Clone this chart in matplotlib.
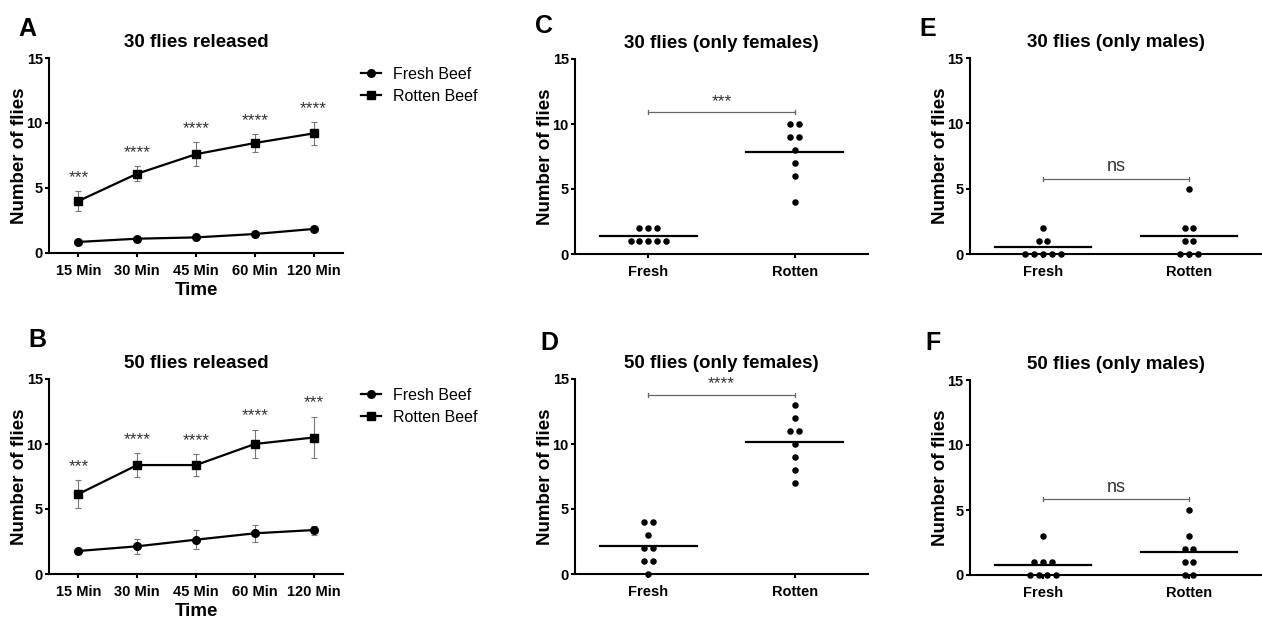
import matplotlib
matplotlib.use('Agg')
import matplotlib.pyplot as plt
import numpy as np
from collections import Counter

plt.rcParams['font.family'] = ['Liberation Sans', 'DejaVu Sans']

# time course data (panels A, B)
times = ['15 Min', '30 Min', '45 Min', '60 Min', '120 Min']

fresh_30 = [0.85, 1.1, 1.2, 1.46, 1.85]
fresh_30_err = [0.12, 0.12, 0.15, 0.15, 0.18]
rotten_30 = [4.0, 6.1, 7.6, 8.46, 9.2]
rotten_30_err = [0.75, 0.6, 0.9, 0.7, 0.87]
stars_30 = ['***', '****', '****', '****', '****']

fresh_50 = [1.77, 2.13, 2.64, 3.13, 3.38]
fresh_50_err = [0.12, 0.6, 0.72, 0.63, 0.35]
rotten_50 = [6.15, 8.38, 8.38, 10.0, 10.5]
rotten_50_err = [1.05, 0.92, 0.85, 1.1, 1.6]
stars_50 = ['***', '****', '****', '****', '***']

# individual counts (panels C-F)
groups = ['Fresh', 'Rotten']
fem30_fresh = [2, 2, 2, 1, 1, 1, 1, 1]
fem30_rotten = [10, 10, 9, 9, 8, 7, 6, 4]
fem50_fresh = [4, 4, 3, 2, 2, 1, 1, 0]
fem50_rotten = [13, 12, 11, 11, 10, 9, 8, 7]
mal30_fresh = [2, 1, 1, 0, 0, 0, 0, 0]
mal30_rotten = [5, 2, 2, 1, 1, 0, 0, 0]
mal50_fresh = [3, 1, 1, 1, 0, 0, 0, 0]
mal50_rotten = [5, 3, 2, 2, 1, 1, 0, 0]

W, H = 1262, 619
fig = plt.figure(figsize=(W / 100, H / 100), dpi=100)


def px_axes(left, top, right, bottom):
    return fig.add_axes([left / W, 1 - bottom / H, (right - left) / W, (bottom - top) / H])


def style(ax):
    for s in ['top', 'right']:
        ax.spines[s].set_visible(False)
    for s in ['left', 'bottom']:
        ax.spines[s].set_linewidth(1.5)
    ax.tick_params(direction='out', length=3, width=1.5, labelsize=10.5, pad=1.5)
    ax.tick_params(axis='x', pad=5)
    ax.set_ylim(0, 15)
    ax.set_yticks([0, 5, 10, 15])
    for lab in ax.get_xticklabels() + ax.get_yticklabels():
        lab.set_fontweight('bold')
    ax.set_ylabel('Number of flies', fontsize=13.5, fontweight='bold', labelpad=-1)


def time_panel(ax, title, fresh, fresh_err, rotten, rotten_err, stars):
    x = np.arange(len(times))
    for vals, errs, mk, ms, lab in [(fresh, fresh_err, 'o', 5.5, 'Fresh Beef'),
                                    (rotten, rotten_err, 's', 6.2, 'Rotten Beef')]:
        ax.errorbar(x, vals, yerr=errs, fmt='none', ecolor='#777777', elinewidth=0.8,
                    capsize=2.5, capthick=0.8, zorder=2)
        ax.plot(x, vals, color='black', marker=mk, markersize=ms, lw=1.6,
                label=lab, clip_on=False, zorder=3)
    for xi, r, e, s in zip(x, rotten, rotten_err, stars):
        ax.text(xi, r + e + 1.05, s, ha='center', va='center', fontsize=12.5, color='#333333')
    ax.set_xlim(-0.5, len(times) - 0.5)
    ax.set_xticks(x)
    ax.set_xticklabels(times)
    style(ax)
    ax.set_xlabel('Time', fontsize=13.5, fontweight='bold', labelpad=3)
    ax.set_title(title, fontsize=13.5, fontweight='bold', pad=8)
    ax.legend(loc='upper left', bbox_to_anchor=(1.06, 0.955), frameon=False, fontsize=11.5,
              borderaxespad=0, borderpad=0, handlelength=1.3, handletextpad=0.7,
              labelspacing=0.45)


def swarm(values, center, dx=0.06):
    counts = Counter(values)
    xs, ys = [], []
    for v, n in counts.items():
        for i in range(n):
            xs.append(center + (i - (n - 1) / 2) * dx)
            ys.append(v)
    return xs, ys


def dot_panel(ax, title, fresh, rotten, sig, sig_y, sig_size):
    for i, vals in enumerate([fresh, rotten]):
        xs, ys = swarm(vals, i)
        ax.scatter(xs, ys, s=22, color='black', zorder=3, clip_on=False, linewidths=0)
        m = np.mean(vals)
        ax.plot([i - 0.33, i + 0.33], [m, m], color='black', lw=1.6, zorder=2)
    ax.plot([0, 1], [sig_y, sig_y], color='#666666', lw=0.9)
    ax.plot([0, 0], [sig_y - 0.15, sig_y + 0.15], color='#666666', lw=0.9)
    ax.plot([1, 1], [sig_y - 0.15, sig_y + 0.15], color='#666666', lw=0.9)
    ax.text(0.5, sig_y + 0.25, sig, ha='center', va='bottom', fontsize=sig_size, color='#333333')
    ax.set_xlim(-0.5, 1.5)
    ax.set_xticks([0, 1])
    ax.set_xticklabels(groups)
    style(ax)
    ax.set_title(title, fontsize=13.5, fontweight='bold', pad=8)


axA = px_axes(49, 58, 343, 253)
time_panel(axA, '30 flies released', fresh_30, fresh_30_err, rotten_30, rotten_30_err, stars_30)
axB = px_axes(49, 379, 343, 574)
time_panel(axB, '50 flies released', fresh_50, fresh_50_err, rotten_50, rotten_50_err, stars_50)

axC = px_axes(575, 59, 868, 254)
dot_panel(axC, '30 flies (only females)', fem30_fresh, fem30_rotten, '***', 10.9, 12.5)
axD = px_axes(575, 379, 868, 574)
dot_panel(axD, '50 flies (only females)', fem50_fresh, fem50_rotten, '****', 13.8, 12.5)
axE = px_axes(970, 58, 1262, 254)
dot_panel(axE, '30 flies (only males)', mal30_fresh, mal30_rotten, 'ns', 5.77, 13)
axF = px_axes(970, 380, 1262, 575)
dot_panel(axF, '50 flies (only males)', mal50_fresh, mal50_rotten, 'ns', 5.82, 13)

for lab, x, y in [('A', 18, 36), ('B', 28, 347), ('C', 535, 33),
                  ('D', 540, 350), ('E', 919, 36), ('F', 925, 350)]:
    fig.text(x / W, 1 - y / H, lab, fontsize=18, fontweight='bold', ha='left', va='baseline')

fig.savefig('out.png', dpi=100)
